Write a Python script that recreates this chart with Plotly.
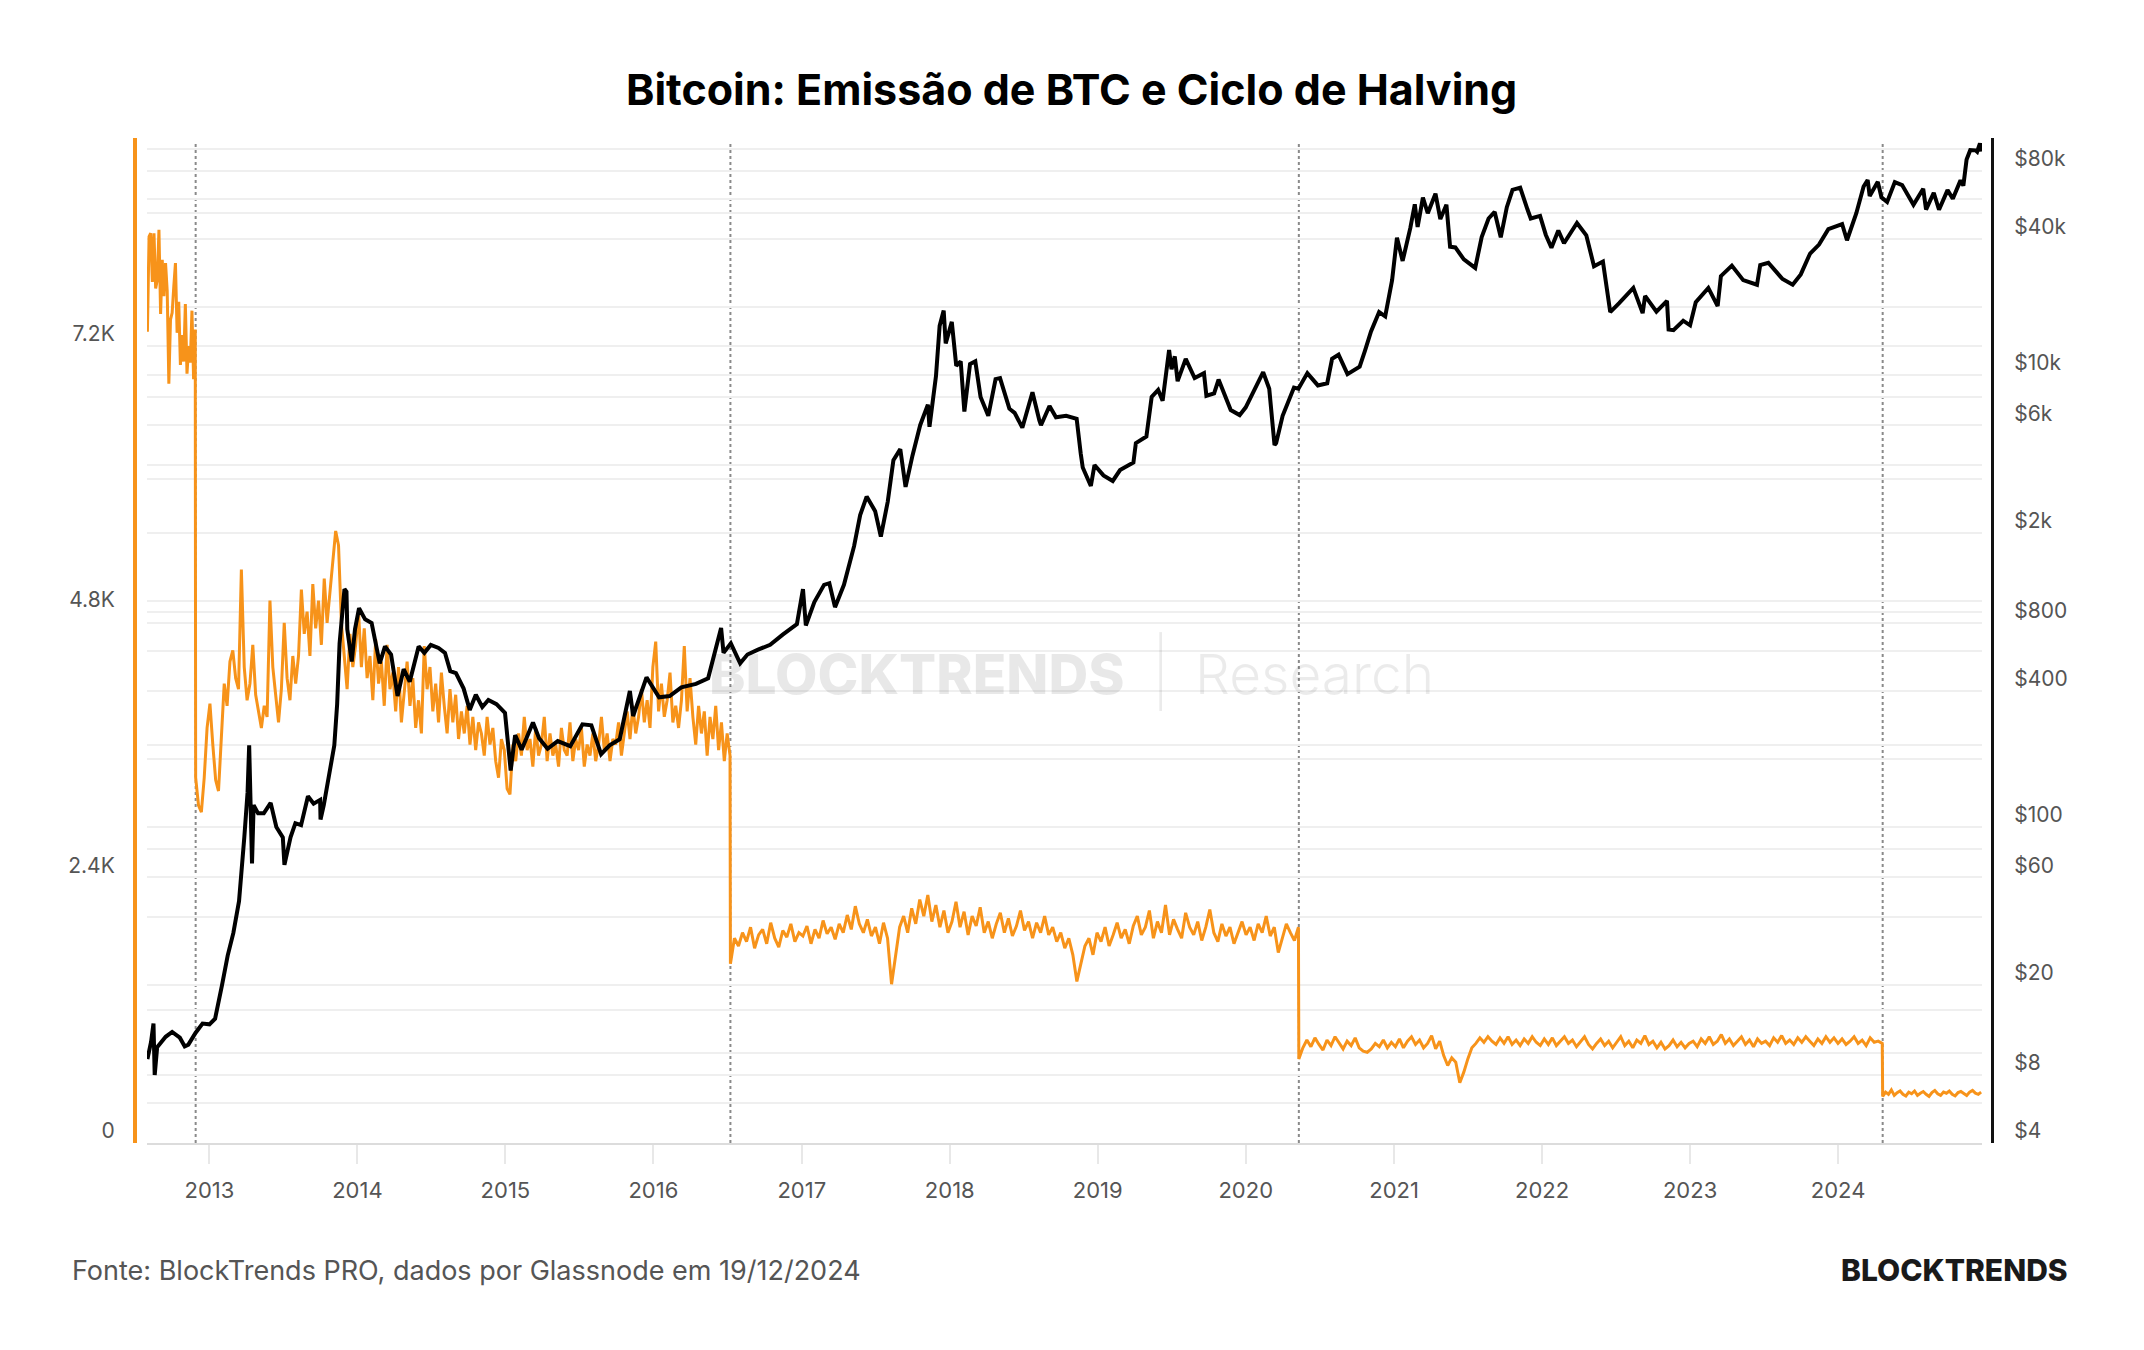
import numpy as np
import pandas as pd
import plotly.graph_objects as go

# ---------------- data ----------------
years = [2013, 2014, 2015, 2016, 2017, 2018, 2019, 2020, 2021, 2022, 2023, 2024]
halving_dates = ["2012-11-28", "2016-07-09", "2020-05-11", "2024-04-20"]
series_start = "2012-08-01"
series_end = "2024-12-19"

# daily BTC issuance per halving epoch (BTC/day)
emis_e1 = [7330, 8190, 8220, 7780, 8220, 7720, 7800, 8250, 7490, 7980, 7650, 7950, 7700, 6860, 7440,
           7500, 7740, 7950, 7320, 7600, 7030, 7300, 7060, 7580, 6950, 7200, 7050, 7520, 6900, 7350]
emis_e2 = [3300, 3050, 2990, 3300, 3750,
           3970, 3600, 3280, 3180,
           3700, 4150, 3950, 4350,
           4450, 4200, 4100, 5180,
           4300, 4000, 4150, 4500, 4050,
           3900, 3750, 3950, 3850,
           4900, 4300, 4050, 3800,
           4100, 4700, 4200, 4000, 4400,
           4150, 4400, 5000, 4600,
           4800, 4400, 5050, 4650,
           4900, 4500, 5100, 4700, 5000,
           5250, 5530, 5400, 4700,
           4400, 4100, 4600, 4300,
           4500, 4800, 4300, 4650, 4200,
           4400, 4000, 4550, 4150,
           4350, 3950, 4500, 4100,
           4250, 3900, 4300, 3800, 4100,
           4350, 3950, 4200, 3750,
           4000, 3700, 4490, 4100,
           4300, 3900, 4150, 3800, 4250,
           3950, 3700, 4100, 3800,
           4050, 3650, 3900, 3700,
           3950, 3600, 3850, 3550, 3800,
           3700, 3500, 3850, 3600,
           3750, 3450, 3300, 3650,
           3550, 3200, 3150, 3600, 3450,
           3700, 3500, 3850, 3550,
           3650, 3400, 3750, 3500,
           3600, 3850, 3450, 3700, 3500,
           3600, 3400, 3750, 3550,
           3500, 3800, 3450, 3650,
           3550, 3750, 3400, 3600, 3500,
           3700, 3450, 3600, 3850,
           3550, 3700, 3450, 3650,
           3600, 3800, 3500, 3700, 3900,
           3650, 3950, 3700, 3850,
           4100, 3800, 4000, 3750,
           4300, 4530, 3900, 4150, 3850,
           4000, 4250, 3800, 3950,
           3750, 4000, 4490, 3900,
           4200, 3850, 3600, 3950, 3700,
           3900, 3500, 3850, 3650,
           3950, 3550, 3800, 3450, 3700,
           3500]
emis_e3 = [1620, 1850, 1780, 1900, 1820, 1950, 1760, 1880, 1930, 1800, 1990, 1850, 1770, 1920, 1860, 1980, 1820, 1900,
           1870, 1960, 1800, 1930, 1850, 2010, 1890, 1950, 1840, 1980, 1900, 2060, 1930, 2140, 1980, 1900, 2020, 1870,
           1950, 1800, 1990, 1850, 1435, 1700, 1950, 2050, 1900, 2120, 1980, 2200, 2050, 2240, 2000, 2150, 1950, 2100, 1900,
           2000, 2180, 1950, 2090, 1880, 2050, 1960, 2130, 1900, 2000, 1850, 1980, 2080, 1900, 2030, 1870, 1960, 2100,
           1920, 2000, 1850, 1990, 1900, 2050, 1880, 1950, 1820, 1900, 1760, 1850, 1700, 1460, 1620, 1780, 1850, 1700, 1900,
           1820, 1950, 1780, 1880, 1990, 1850, 1930, 1800, 1960, 2050, 1880, 1950, 2100, 1850, 2000, 1900, 2150, 1880,
           2020, 1930, 1850, 2080, 1950, 1880, 2000, 1830, 1950, 2110, 1900, 1820, 1980, 1870, 1950, 1800, 1900, 2000, 1880,
           1950, 1830, 1980, 1900, 2050, 1870, 1950, 1720, 1850, 1980, 1900, 1830, 1950]
emis_e4 = [760, 860, 930, 870, 950, 890, 840, 930, 880, 960, 900, 850, 920, 880, 950, 860, 830, 820, 850, 900, 870, 930, 860, 910,
           870, 940, 860, 920, 960, 890, 930, 860, 900, 970, 850, 920, 790, 700, 770, 730, 545, 640, 760, 860, 900, 950,
           910, 960, 920, 890, 950, 900, 960, 890, 930, 880, 940, 900, 960, 910, 880,
           940, 890, 950, 880, 920, 960, 900, 930, 870, 920, 960, 890, 850, 900, 940, 880, 920, 860, 910, 960, 880,
           920, 860, 930, 900, 970, 890, 920, 860, 910, 850, 880, 930, 870, 910, 860, 900,
           920, 870, 940, 900, 960, 890, 920, 980, 900, 940, 880, 920, 960, 890, 930, 870, 940, 900, 920, 880, 950,
           910, 970, 900, 930, 890, 950, 910, 960, 920, 880, 940, 900, 960, 910, 950, 900,
           940, 890, 920, 960, 900, 930, 880, 950, 910, 920, 900]
emis_e5 = [420, 460, 440, 480, 430, 455, 470, 440, 425, 460, 445, 470, 430, 450, 465, 440, 420, 455, 475, 445, 430,
           460, 450, 470, 440, 425, 455, 465, 445, 430, 460, 475, 450, 440, 460]

# BTC price (USD)
price_dates = [
    "2012-08-01", "2012-08-10", "2012-08-16", "2012-08-19", "2012-08-25", "2012-09-15", "2012-10-01", "2012-10-20",
    "2012-11-01", "2012-11-10", "2012-11-28", "2012-12-15", "2013-01-01", "2013-01-15", "2013-02-01", "2013-02-15",
    "2013-03-01", "2013-03-15", "2013-03-28", "2013-04-05", "2013-04-09", "2013-04-12", "2013-04-16", "2013-04-20",
    "2013-05-01", "2013-05-15", "2013-06-01", "2013-06-15", "2013-07-01", "2013-07-05", "2013-07-20", "2013-08-01",
    "2013-08-15", "2013-09-01", "2013-09-15", "2013-10-01", "2013-10-02", "2013-10-10", "2013-10-25", "2013-11-05",
    "2013-11-12", "2013-11-18", "2013-11-30", "2013-12-05", "2013-12-07", "2013-12-18", "2013-12-26", "2014-01-05",
    "2014-01-20", "2014-02-05", "2014-02-25", "2014-03-10", "2014-03-25", "2014-04-10", "2014-04-25", "2014-05-10",
    "2014-06-01", "2014-06-15", "2014-07-01", "2014-07-20", "2014-08-05", "2014-08-18", "2014-09-01", "2014-09-20",
    "2014-10-05", "2014-10-20", "2014-11-05", "2014-11-20", "2014-12-10", "2014-12-31", "2015-01-14", "2015-01-25",
    "2015-02-10", "2015-03-10", "2015-03-25", "2015-04-15", "2015-05-10", "2015-06-10", "2015-07-10", "2015-08-01",
    "2015-08-25", "2015-09-15", "2015-10-10", "2015-11-04", "2015-11-12", "2015-12-15", "2016-01-15", "2016-02-10",
    "2016-03-10", "2016-04-15", "2016-05-15", "2016-06-16", "2016-06-22", "2016-07-10", "2016-08-02", "2016-08-20",
    "2016-09-15", "2016-10-15", "2016-11-15", "2016-12-20", "2017-01-04", "2017-01-11", "2017-02-01", "2017-02-25",
    "2017-03-10", "2017-03-24", "2017-04-15", "2017-05-10", "2017-05-25", "2017-06-10", "2017-07-01", "2017-07-15",
    "2017-08-01", "2017-08-15", "2017-09-01", "2017-09-14", "2017-10-01", "2017-10-20", "2017-11-08", "2017-11-12",
    "2017-11-28", "2017-12-07", "2017-12-17", "2017-12-22", "2018-01-06", "2018-01-17", "2018-01-28", "2018-02-06",
    "2018-02-20", "2018-03-05", "2018-03-18", "2018-04-06", "2018-04-24", "2018-05-05", "2018-05-28", "2018-06-10",
    "2018-06-29", "2018-07-24", "2018-08-10", "2018-08-14", "2018-09-04", "2018-09-20", "2018-10-15", "2018-11-10",
    "2018-11-20", "2018-11-25", "2018-12-15", "2018-12-24", "2019-01-15", "2019-02-07", "2019-02-25", "2019-03-30",
    "2019-04-05", "2019-05-01", "2019-05-14", "2019-05-30", "2019-06-10", "2019-06-26", "2019-07-02", "2019-07-10",
    "2019-07-17", "2019-08-06", "2019-08-28", "2019-09-20", "2019-09-26", "2019-10-15", "2019-10-26", "2019-11-25",
    "2019-12-17", "2020-01-01", "2020-02-13", "2020-02-28", "2020-03-12", "2020-03-16", "2020-04-01", "2020-04-29",
    "2020-05-10", "2020-06-01", "2020-06-27", "2020-07-20", "2020-08-01", "2020-08-17", "2020-09-08", "2020-10-08",
    "2020-10-21", "2020-11-05", "2020-11-25", "2020-12-10", "2020-12-27", "2021-01-08", "2021-01-22", "2021-02-10",
    "2021-02-21", "2021-02-28", "2021-03-13", "2021-03-25", "2021-04-13", "2021-04-25", "2021-05-10", "2021-05-19",
    "2021-06-01", "2021-06-22", "2021-07-20", "2021-08-05", "2021-08-22", "2021-09-06", "2021-09-21", "2021-10-06",
    "2021-10-20", "2021-11-08", "2021-11-26", "2021-12-04", "2021-12-27", "2022-01-10", "2022-01-24", "2022-02-10",
    "2022-02-24", "2022-03-28", "2022-04-20", "2022-05-09", "2022-05-31", "2022-06-13", "2022-06-18", "2022-07-10",
    "2022-08-14", "2022-09-06", "2022-09-12", "2022-10-10", "2022-11-05", "2022-11-09", "2022-11-21", "2022-12-15",
    "2023-01-01", "2023-01-15", "2023-02-15", "2023-03-10", "2023-03-18", "2023-04-14", "2023-05-12", "2023-06-15",
    "2023-06-23", "2023-07-13", "2023-08-17", "2023-09-11", "2023-10-01", "2023-10-24", "2023-11-15", "2023-12-08",
    "2024-01-11", "2024-01-23", "2024-02-15", "2024-03-04", "2024-03-14", "2024-03-19", "2024-04-08", "2024-04-17",
    "2024-05-01", "2024-05-20", "2024-06-07", "2024-07-05", "2024-07-29", "2024-08-05", "2024-08-24", "2024-09-06",
    "2024-09-27", "2024-10-10", "2024-10-29", "2024-11-05", "2024-11-13", "2024-11-22", "2024-12-05", "2024-12-09",
    "2024-12-16", "2024-12-19"]
price_usd = [
    9.4, 11.2, 13.5, 8.0, 10.6, 11.8, 12.4, 11.7,
    10.7, 10.9, 12.3, 13.5, 13.4, 14.2, 20, 27,
    34, 47, 90, 142, 230, 110, 69, 125,
    115, 115, 128, 100, 90, 68, 90, 104,
    102, 137, 127, 132, 108, 125, 180, 230,
    350, 650, 1130, 1100, 750, 540, 750, 930,
    830, 800, 530, 630, 580, 380, 500, 440,
    630, 590, 640, 620, 590, 490, 480, 410,
    330, 385, 340, 365, 350, 320, 178, 255,
    220, 290, 247, 222, 240, 228, 285, 282,
    210, 230, 245, 400, 310, 460, 375, 380,
    415, 430, 455, 760, 590, 650, 530, 580,
    610, 640, 710, 790, 1130, 780, 990, 1180,
    1200, 940, 1180, 1750, 2400, 2900, 2500, 1930,
    2750, 4200, 4700, 3200, 4400, 6000, 7400, 5900,
    9900, 16500, 19300, 13800, 17200, 11000, 11500, 6900,
    11200, 11500, 8000, 6600, 9600, 9700, 7100, 6800,
    5850, 8400, 6300, 6000, 7300, 6500, 6600, 6400,
    4500, 3900, 3230, 4000, 3600, 3400, 3800, 4100,
    5000, 5350, 8000, 8600, 7700, 12900, 10600, 12100,
    9400, 11800, 9700, 10200, 8100, 8300, 9550, 7000,
    6650, 7200, 10300, 8700, 4900, 5000, 6600, 8800,
    8700, 10200, 9000, 9200, 11800, 12300, 10100, 10900,
    12800, 15600, 19000, 18200, 26300, 40500, 32000, 44800,
    57000, 45200, 61000, 52000, 63500, 49000, 56700, 37000,
    36700, 32500, 29800, 40800, 49300, 52700, 40700, 55300,
    66000, 67500, 54000, 49300, 50600, 41800, 36600, 43600,
    38300, 47100, 41500, 30300, 31800, 22500, 19000, 20800,
    24300, 18800, 22400, 19100, 21300, 15900, 15800, 17400,
    16600, 21000, 24300, 20200, 27400, 30500, 26300, 25100,
    30700, 31400, 26600, 25100, 27900, 34500, 37800, 44200,
    46600, 39500, 52000, 68300, 73000, 62000, 71600, 61200,
    58300, 71400, 69300, 56700, 66800, 54000, 64100, 53900,
    65800, 60300, 72700, 68900, 90000, 98900, 98700, 97300,
    106000, 97500]

emis_ticks = [0, 2400, 4800, 7200]
emis_tick_text = ["0", "2.4K", "4.8K", "7.2K"]
emis_minor = [1200, 3600, 6000, 8400]
price_ticks = [4, 8, 20, 60, 100, 400, 800, 2000, 6000, 10000, 40000, 80000]
price_tick_text = ["$4", "$8", "$20", "$60", "$100", "$400", "$800", "$2k", "$6k", "$10k", "$40k", "$80k"]
price_minor = [6, 10, 40, 80, 200, 600, 1000, 4000, 8000, 20000, 60000, 100000]

# ---------------- build ----------------
W, H = 2144, 1350
ORANGE = "#F7931A"
FONT = "Inter"

bounds = [series_start] + halving_dates + [series_end]
epochs = [emis_e1, emis_e2, emis_e3, emis_e4, emis_e5]
ex, ey = [], []
for i, vals in enumerate(epochs):
    s = pd.Timestamp(bounds[i])
    e = pd.Timestamp(bounds[i + 1])
    if i < len(epochs) - 1:
        e = e - pd.Timedelta(days=1)
    d = pd.to_datetime(np.linspace(s.value, e.value, len(vals)))
    ex.extend(list(d))
    ey.extend(vals)

fig = go.Figure()
fig.add_trace(go.Scatter(x=ex, y=ey, mode="lines", line=dict(color=ORANGE, width=3),
                         yaxis="y", hoverinfo="skip", showlegend=False))
fig.add_trace(go.Scatter(x=pd.to_datetime(price_dates), y=price_usd, mode="lines",
                         line=dict(color="#000000", width=4), yaxis="y2",
                         hoverinfo="skip", showlegend=False))

def px_x(p):
    return p / W

def px_y(p):
    return 1 - p / H

dom_x = [px_x(147), px_x(1982)]
dom_y = [px_y(1143), px_y(138)]

for hd in halving_dates:
    fig.add_shape(type="line", xref="x", yref="y domain", x0=hd, x1=hd, y0=0, y1=0.995,
                  line=dict(color="#8a8a8a", width=2, dash="dot"), layer="below")

grid_col = "#efefef"
ytick_font = dict(family=FONT, size=21, color="#555555")
xtick_font = dict(family=FONT, size=22, color="#555555")

fig.update_layout(
    width=W, height=H,
    margin=dict(l=0, r=0, t=0, b=0),
    paper_bgcolor="white", plot_bgcolor="white",
    xaxis=dict(
        domain=dom_x, type="date",
        range=["2012-07-31", "2024-12-21"],
        tickvals=[f"{y}-01-01" for y in years], ticktext=[str(y) for y in years],
        showgrid=False, showline=True, linecolor="#dcdcdc", linewidth=2,
        ticks="outside", ticklen=19, tickcolor="#e8e8e8", tickwidth=1.5,
        tickfont=xtick_font, ticklabelstandoff=8, automargin=False, zeroline=False,
    ),
    yaxis=dict(
        domain=dom_y, range=[0, 9080], anchor="free", position=px_x(135), side="left",
        tickvals=emis_ticks, ticktext=emis_tick_text,
        showgrid=True, gridcolor=grid_col, gridwidth=1.5,
        minor=dict(tickvals=emis_minor, showgrid=True, gridcolor=grid_col, gridwidth=1.5, ticks=""),
        showline=True, linecolor=ORANGE, linewidth=4, ticks="",
        tickfont=ytick_font, ticklabelshift=-12, ticklabelstandoff=14,
        zeroline=False, automargin=False,
    ),
    yaxis2=dict(
        domain=dom_y, type="log", range=[np.log10(4), 5.049], anchor="free", position=px_x(1992),
        side="right", overlaying="y",
        tickvals=price_ticks, ticktext=price_tick_text,
        showgrid=True, gridcolor=grid_col, gridwidth=1.5,
        minor=dict(tickvals=price_minor, showgrid=True, gridcolor=grid_col, gridwidth=1.5, ticks=""),
        showline=True, linecolor="#111111", linewidth=3, ticks="",
        tickfont=ytick_font, ticklabelshift=-12, ticklabelstandoff=16,
        zeroline=False, automargin=False,
    ),
)

ann = [
    dict(text="<b>Bitcoin: Emissão de BTC e Ciclo de Halving</b>", x=px_x(1071), y=px_y(89),
         font=dict(family=FONT, size=43, color="#000000")),
    dict(text="Fonte: BlockTrends PRO, dados por Glassnode em 19/12/2024", x=px_x(70), y=px_y(1270),
         xanchor="left", font=dict(family=FONT, size=27, color="#555555")),
    dict(text="BLOCKTRENDS", x=px_x(2070), y=px_y(1270), xanchor="right",
         font=dict(family=FONT, size=30, color="#1a1a1a", weight=800)),
    dict(text="BLOCKTRENDS", x=px_x(916), y=px_y(674),
         font=dict(family=FONT, size=55, color="rgba(0,0,0,0.09)", weight=800)),
    dict(text="|", x=px_x(1160), y=px_y(672),
         font=dict(family=FONT, size=66, color="rgba(0,0,0,0.08)", weight=200)),
    dict(text="Research", x=px_x(1314), y=px_y(674),
         font=dict(family=FONT, size=55, color="rgba(0,0,0,0.08)", weight=300)),
]
for a in ann:
    a.setdefault("xanchor", "center")
    fig.add_annotation(xref="paper", yref="paper", showarrow=False, yanchor="middle", **a)

fig.write_html("out.html")
